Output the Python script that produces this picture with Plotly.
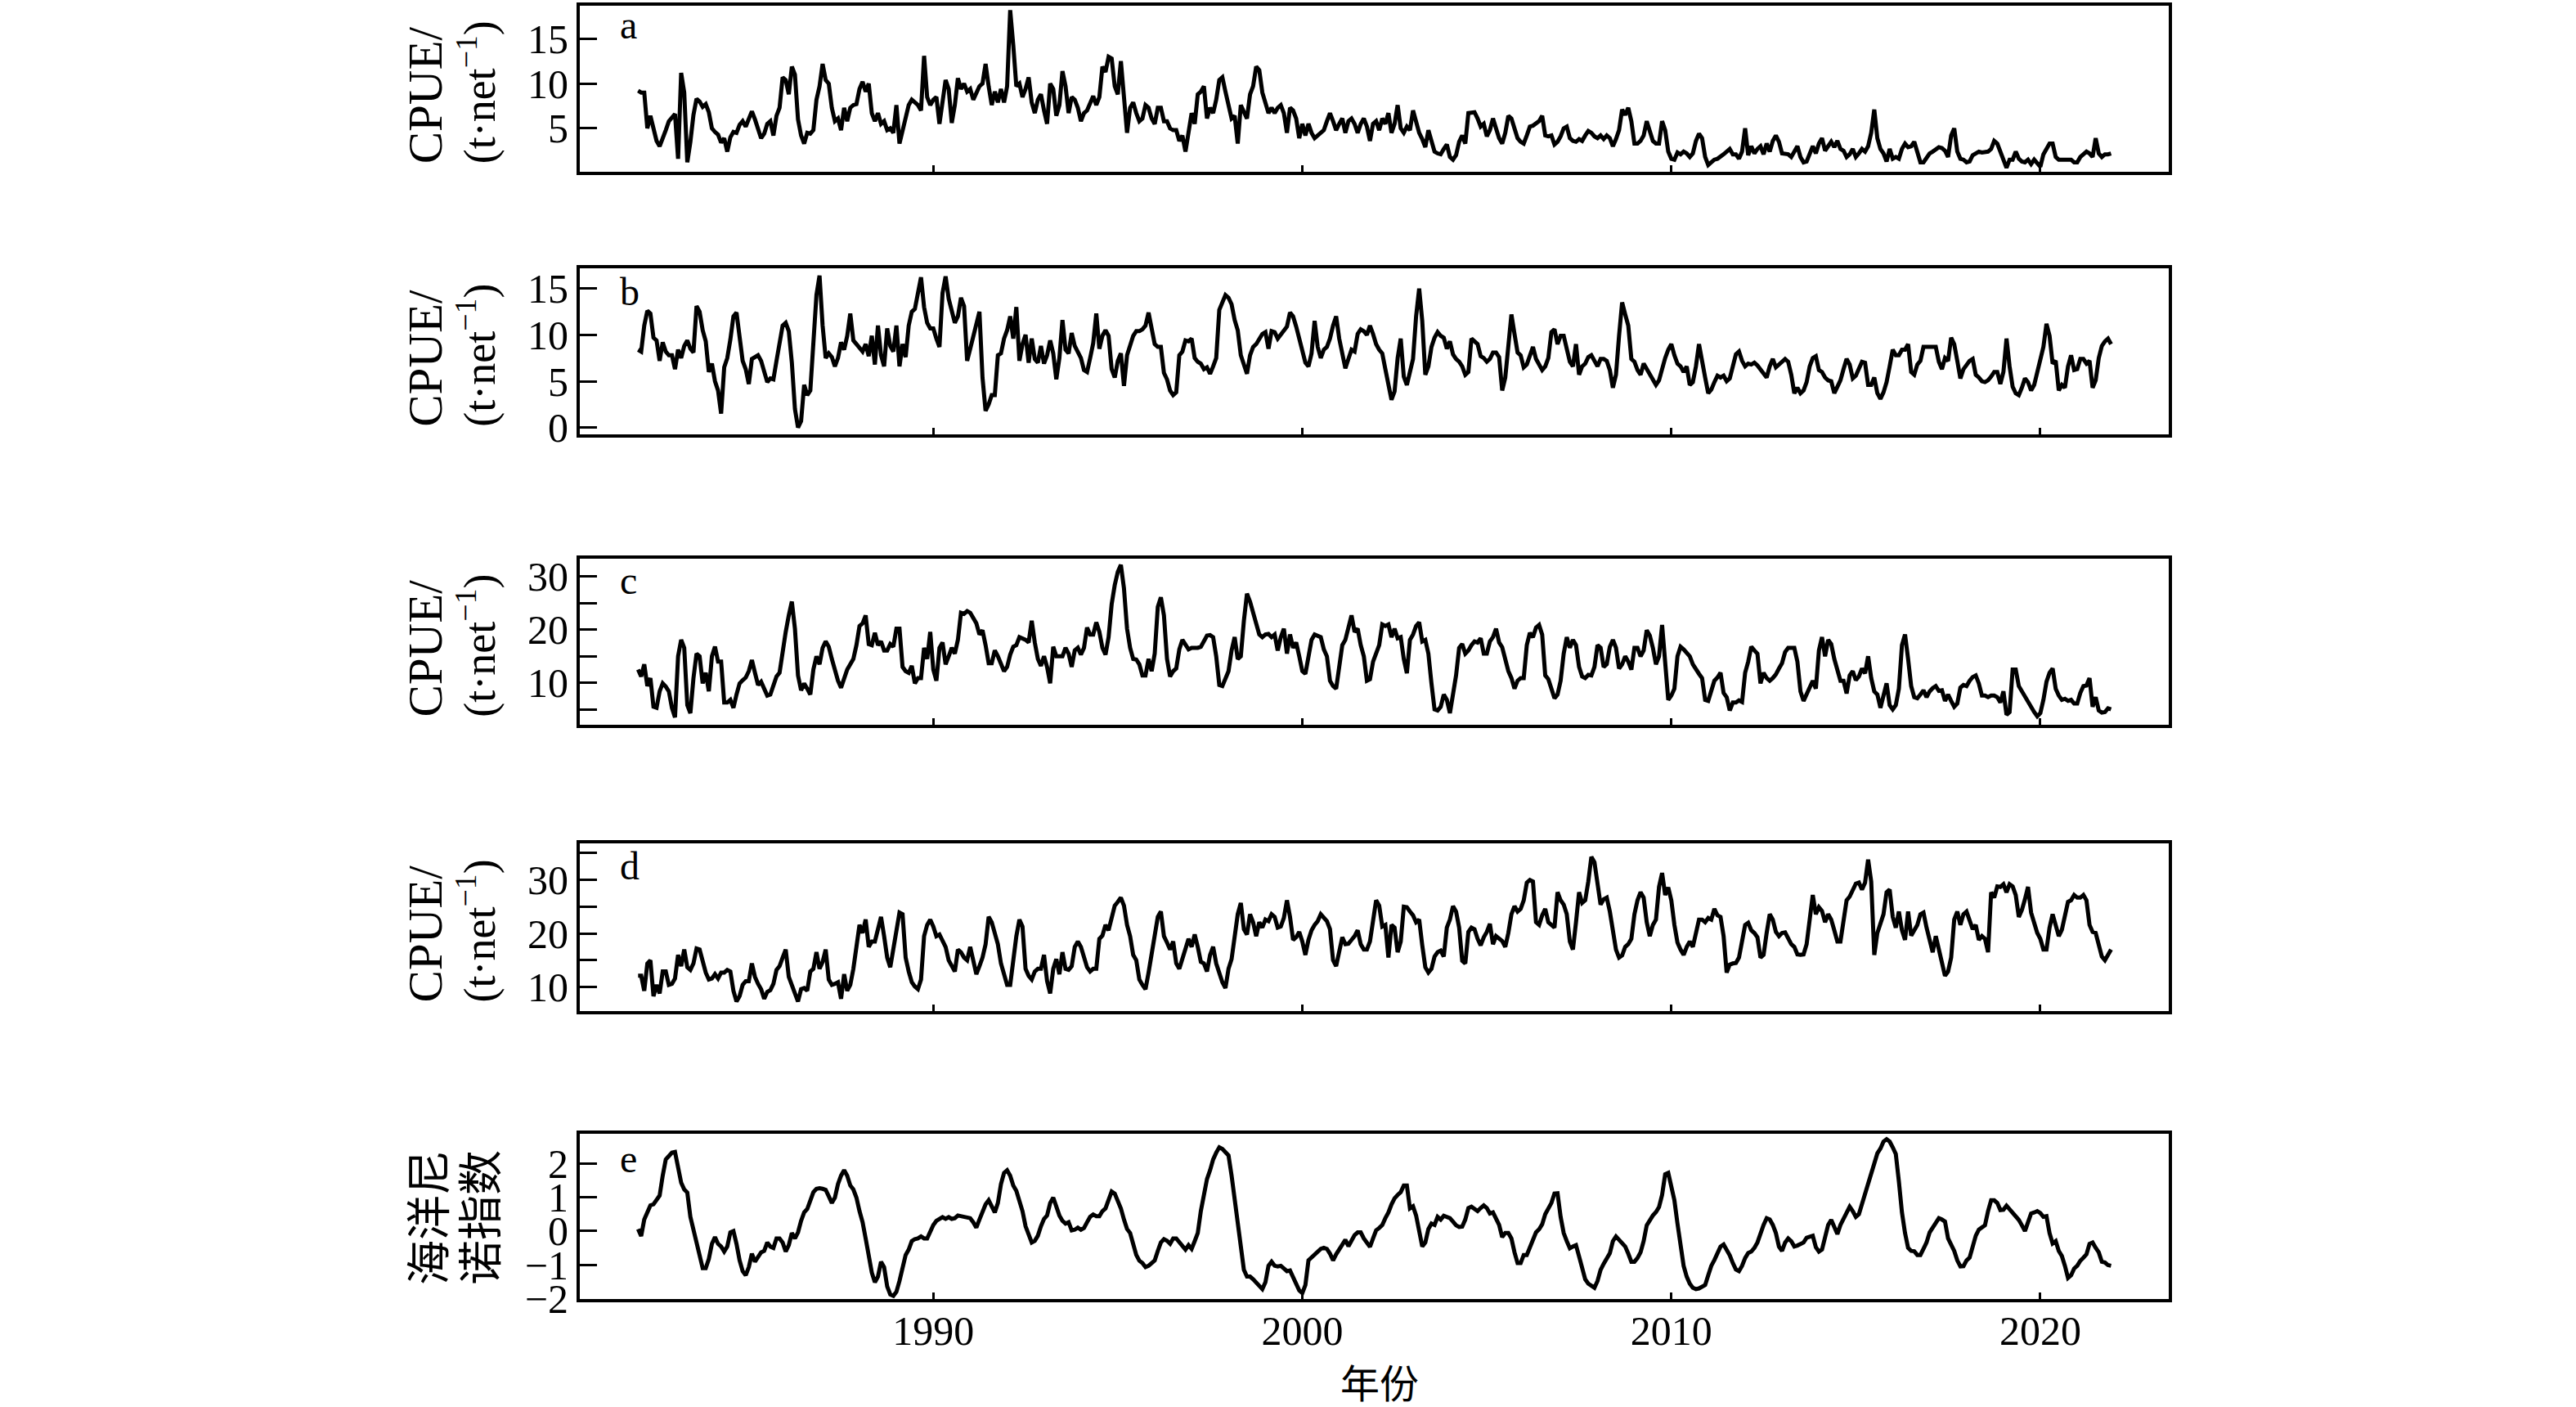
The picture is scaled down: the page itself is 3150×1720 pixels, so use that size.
import numpy as np
import plotly.graph_objects as go

start_year = 1982  # monthly series, January 1982 - December 2021

cpue_a = [
9.2, 9.0, 9.0, 5.0, 6.4, 4.8, 3.6, 3.0, 3.8, 4.8,
5.8, 6.3, 6.6, 1.6, 11.2, 9.0, 1.2, 3.5, 6.5, 8.3,
8.0, 7.4, 7.7, 6.8, 5.0, 4.6, 4.3, 3.4, 3.9, 2.4,
4.0, 4.6, 4.5, 5.4, 5.8, 5.2, 6.2, 6.9, 6.0, 4.8,
3.9, 4.4, 5.5, 5.8, 4.2, 6.4, 7.3, 10.7, 10.4, 8.8,
11.9, 11.0, 6.0, 4.2, 3.3, 4.5, 4.4, 4.8, 8.2, 9.7,
12.2, 10.4, 10.0, 7.3, 5.8, 6.1, 4.8, 7.3, 5.8, 7.3,
7.6, 7.7, 9.4, 10.2, 9.1, 10.0, 6.7, 5.8, 6.7, 5.5,
5.8, 4.8, 5.0, 4.5, 7.6, 3.3, 4.8, 6.1, 7.6, 8.2,
7.9, 7.6, 7.0, 13.1, 8.5, 7.6, 8.2, 8.5, 5.5, 8.0,
10.4, 9.4, 5.6, 7.6, 10.6, 9.4, 10.0, 9.1, 9.4, 8.2,
9.0, 9.7, 10.0, 12.2, 9.7, 7.6, 9.1, 7.9, 9.4, 7.9,
9.7, 18.2, 14.3, 9.7, 10.0, 8.5, 9.4, 10.7, 7.9, 6.7,
8.2, 8.8, 7.0, 5.5, 10.0, 9.4, 6.4, 7.6, 11.4, 9.7,
6.7, 8.5, 8.2, 7.3, 5.8, 6.7, 7.0, 7.9, 8.6, 7.6,
8.5, 11.9, 11.3, 13.0, 12.8, 9.7, 8.8, 12.5, 8.8, 4.5,
7.3, 7.9, 6.7, 5.8, 6.1, 7.6, 7.3, 6.1, 5.5, 7.3,
7.3, 5.8, 5.8, 5.0, 4.8, 4.8, 3.6, 4.2, 2.4, 4.8,
6.7, 5.5, 8.8, 9.1, 9.7, 6.1, 7.3, 6.7, 8.2, 10.4,
10.7, 9.1, 7.6, 6.1, 6.4, 3.3, 7.6, 6.7, 6.1, 8.8,
9.7, 11.9, 11.5, 9.0, 7.9, 6.7, 7.3, 6.7, 7.3, 7.6,
6.7, 4.5, 7.3, 7.0, 6.1, 3.9, 5.5, 4.2, 5.5, 4.5,
3.9, 4.2, 4.5, 4.8, 5.8, 6.7, 5.8, 4.8, 5.5, 6.1,
4.5, 5.8, 6.1, 5.5, 4.5, 5.5, 6.1, 5.2, 3.6, 5.5,
5.8, 4.8, 6.1, 5.5, 6.7, 4.5, 5.5, 7.6, 5.0, 4.5,
5.2, 4.8, 7.0, 5.6, 4.5, 3.8, 2.9, 4.8, 3.6, 2.4,
2.2, 2.1, 2.7, 3.2, 1.8, 1.5, 2.0, 3.5, 4.2, 3.3,
6.7, 6.8, 6.8, 6.1, 5.2, 5.5, 4.1, 4.8, 6.1, 5.0,
3.9, 3.3, 4.5, 6.4, 6.1, 5.0, 3.9, 3.5, 3.3, 4.2,
5.2, 5.3, 5.5, 5.8, 6.4, 4.2, 4.1, 4.2, 3.2, 3.5,
4.1, 5.0, 5.2, 3.9, 3.6, 3.5, 3.8, 3.6, 4.2, 4.7,
4.5, 4.1, 3.9, 4.2, 3.8, 4.2, 3.9, 3.0, 3.8, 4.8,
7.1, 6.5, 7.3, 5.8, 3.3, 3.3, 3.6, 4.2, 5.8, 4.8,
3.6, 3.3, 3.3, 5.8, 4.8, 2.4, 1.6, 1.5, 2.3, 2.1,
2.4, 2.2, 1.8, 2.2, 3.6, 4.4, 3.9, 1.8, 0.9, 1.2,
1.5, 1.6, 1.8, 2.1, 2.4, 2.7, 2.1, 2.1, 1.6, 2.4,
5.0, 2.0, 3.0, 2.2, 2.7, 3.0, 2.1, 3.3, 2.4, 3.6,
4.2, 3.5, 2.2, 2.2, 2.1, 1.8, 2.4, 3.0, 1.8, 1.2,
1.3, 2.2, 3.0, 2.2, 3.3, 3.9, 2.5, 3.0, 3.5, 2.9,
3.6, 2.7, 2.5, 1.8, 2.1, 2.7, 1.8, 2.2, 2.7, 2.4,
3.0, 4.5, 7.1, 3.9, 2.7, 2.2, 1.3, 2.7, 1.6, 1.8,
1.6, 2.7, 3.3, 2.9, 3.0, 3.5, 2.2, 1.2, 1.2, 1.8,
2.2, 2.4, 2.7, 2.9, 2.8, 2.5, 1.8, 4.2, 5.0, 2.4,
1.6, 1.5, 1.2, 1.3, 2.0, 2.2, 2.4, 2.3, 2.4, 2.4,
2.7, 3.6, 3.3, 2.4, 1.8, 0.6, 1.5, 1.5, 2.4, 1.6,
1.3, 1.2, 1.5, 1.0, 1.5, 1.0, 0.7, 2.1, 2.7, 3.3,
3.3, 1.8, 1.5, 1.5, 1.6, 1.6, 1.5, 1.2, 1.2, 1.8,
2.1, 2.4, 2.2, 1.8, 3.9, 2.2, 1.8, 2.1, 2.1, 2.2,
]

cpue_b = [
8.4, 8.2, 11.0, 12.6, 12.3, 9.7, 9.4, 7.2, 9.2, 8.2,
7.8, 7.8, 6.3, 8.4, 7.5, 8.8, 9.4, 8.5, 8.1, 13.1,
12.5, 10.5, 9.3, 6.0, 6.9, 5.0, 4.0, 1.5, 6.5, 7.5,
9.5, 12.0, 12.4, 9.5, 7.2, 6.3, 4.7, 7.4, 7.6, 7.8,
7.2, 6.0, 4.9, 5.3, 5.2, 7.2, 9.3, 11.0, 11.3, 10.4,
7.0, 2.0, 0.0, 0.7, 4.6, 3.5, 4.0, 9.5, 14.3, 16.4,
11.0, 7.5, 8.0, 7.6, 6.6, 7.5, 9.2, 8.4, 9.9, 12.3,
9.4, 9.0, 8.6, 8.2, 9.0, 7.7, 9.9, 6.8, 11.0, 7.8,
6.6, 10.7, 8.8, 8.2, 11.0, 6.6, 9.0, 7.6, 11.0, 12.5,
12.8, 14.3, 16.2, 13.0, 11.3, 10.7, 10.7, 9.6, 8.7, 14.5,
16.3, 13.9, 12.5, 11.3, 12.0, 14.0, 13.1, 7.2, 8.5, 10.0,
11.0, 12.5, 5.4, 1.8, 2.5, 3.5, 3.5, 7.8, 8.0, 9.6,
10.5, 12.0, 9.6, 13.0, 7.2, 9.0, 10.0, 7.0, 9.6, 7.4,
7.0, 8.8, 6.9, 7.8, 9.4, 8.0, 5.2, 7.5, 11.6, 8.4,
8.0, 10.2, 8.8, 8.1, 7.5, 6.2, 6.0, 7.5, 9.1, 12.3,
8.5, 9.9, 10.5, 9.9, 6.3, 5.4, 7.2, 8.0, 4.5, 7.8,
9.0, 9.9, 10.4, 10.4, 10.6, 11.0, 12.4, 10.5, 9.0, 8.7,
8.7, 5.9, 5.2, 4.0, 3.5, 3.8, 7.8, 8.2, 9.4, 9.3,
9.6, 7.5, 7.1, 6.9, 6.3, 6.5, 5.8, 6.6, 7.5, 12.7,
13.6, 14.3, 14.0, 13.3, 11.6, 10.5, 7.8, 6.6, 5.8, 7.8,
8.7, 9.0, 9.6, 10.1, 10.3, 8.5, 10.4, 10.3, 9.6, 10.0,
10.4, 10.9, 12.4, 12.0, 10.9, 9.6, 8.1, 7.0, 6.6, 8.0,
11.5, 8.7, 7.5, 8.4, 8.7, 9.6, 11.0, 12.0, 9.6, 7.8,
6.4, 7.4, 8.4, 8.2, 10.1, 10.6, 10.4, 10.0, 11.0, 10.1,
9.0, 8.4, 8.0, 6.3, 4.6, 3.0, 3.9, 7.5, 9.6, 5.5,
4.6, 6.0, 7.4, 12.0, 15.0, 11.5, 5.7, 6.6, 8.7, 9.7,
10.3, 9.9, 9.7, 8.5, 9.3, 7.9, 7.4, 7.1, 6.6, 5.7,
6.0, 9.6, 9.3, 9.0, 7.7, 7.5, 7.1, 7.4, 8.1, 8.1,
7.6, 4.0, 5.4, 8.7, 12.2, 10.1, 8.1, 7.8, 6.5, 6.8,
7.9, 8.7, 7.4, 6.8, 6.2, 6.6, 7.5, 10.3, 10.6, 9.0,
9.9, 9.9, 8.7, 7.1, 6.6, 9.0, 5.7, 6.6, 6.9, 7.6,
7.8, 7.1, 6.6, 7.4, 7.4, 7.2, 6.2, 4.3, 5.7, 9.9,
13.5, 12.2, 11.0, 7.4, 7.1, 6.2, 5.7, 6.9, 6.3, 5.6,
5.0, 4.6, 5.1, 6.5, 7.5, 8.4, 9.0, 7.8, 6.9, 6.6,
6.0, 6.6, 4.6, 4.9, 6.6, 9.0, 6.9, 5.4, 3.7, 4.1,
4.9, 5.6, 5.4, 5.6, 5.0, 5.3, 6.6, 7.9, 8.2, 7.2,
6.6, 6.9, 6.8, 7.0, 6.7, 6.3, 5.8, 5.4, 6.6, 7.4,
6.5, 6.8, 7.1, 7.4, 7.1, 5.7, 3.7, 4.3, 3.7, 4.0,
4.9, 6.6, 7.5, 7.7, 6.2, 6.0, 5.4, 5.1, 5.0, 3.7,
4.4, 5.1, 6.3, 7.4, 6.8, 5.3, 5.6, 6.3, 7.1, 7.0,
4.6, 4.6, 5.4, 3.7, 3.1, 3.8, 4.9, 6.6, 8.4, 7.8,
7.8, 8.4, 8.4, 9.0, 6.0, 5.7, 6.8, 7.2, 8.7, 8.7,
8.7, 8.7, 8.7, 7.1, 6.3, 7.5, 7.2, 9.7, 9.0, 7.2,
5.3, 6.3, 6.8, 7.2, 7.4, 5.7, 5.4, 5.0, 4.9, 5.1,
5.5, 6.0, 6.0, 4.7, 6.0, 9.6, 6.6, 4.4, 3.7, 3.5,
4.3, 5.3, 4.9, 4.0, 4.6, 6.0, 7.4, 8.7, 11.2, 9.9,
6.9, 7.2, 4.0, 4.6, 4.3, 6.6, 7.8, 6.2, 6.3, 7.4,
7.4, 6.9, 7.2, 4.3, 5.1, 7.5, 8.8, 9.3, 9.6, 9.0,
]

cpue_c = [
12.5, 11.2, 13.5, 9.4, 10.9, 5.5, 5.3, 8.4, 9.9, 9.3,
8.4, 5.3, 3.5, 15.0, 18.1, 16.6, 5.8, 4.3, 10.9, 15.5,
15.0, 9.9, 11.9, 8.4, 15.0, 16.8, 14.0, 14.0, 6.3, 6.3,
6.8, 5.3, 7.8, 9.9, 10.5, 11.0, 12.2, 14.3, 11.9, 9.6,
10.2, 8.9, 7.6, 7.8, 9.4, 11.2, 11.9, 16.1, 19.6, 22.7,
25.3, 20.2, 11.4, 8.6, 9.9, 8.9, 7.8, 12.5, 15.0, 13.5,
16.6, 17.8, 16.8, 14.5, 12.5, 10.4, 9.1, 10.9, 12.5, 13.5,
14.5, 17.1, 20.7, 21.2, 22.7, 17.3, 17.1, 19.4, 17.1, 17.8,
16.1, 16.1, 17.3, 16.8, 20.2, 20.2, 13.0, 12.2, 11.9, 13.2,
9.9, 10.9, 10.9, 16.6, 14.5, 19.6, 12.5, 10.4, 16.6, 17.6,
13.5, 15.0, 16.6, 15.5, 18.1, 23.2, 23.0, 23.5, 23.2, 22.2,
21.2, 19.1, 19.9, 17.1, 13.7, 13.7, 16.1, 15.0, 13.5, 12.2,
13.0, 15.3, 16.8, 17.1, 18.6, 18.4, 18.1, 17.6, 21.7, 17.6,
14.5, 13.2, 15.0, 13.0, 9.9, 16.8, 15.0, 15.0, 15.0, 16.6,
15.5, 13.0, 16.1, 16.6, 15.3, 16.6, 20.4, 19.1, 19.1, 21.4,
19.6, 16.6, 15.3, 18.6, 24.8, 28.4, 30.9, 32.2, 27.8, 20.2,
16.6, 14.5, 14.4, 13.5, 11.4, 11.4, 14.5, 12.2, 15.5, 24.3,
26.1, 22.7, 14.5, 11.2, 12.2, 12.7, 16.3, 18.1, 17.3, 16.3,
16.6, 16.6, 16.6, 16.8, 17.8, 18.9, 19.0, 18.6, 15.0, 9.6,
9.4, 10.7, 12.2, 16.1, 18.6, 14.5, 15.0, 21.7, 26.8, 25.3,
23.0, 21.4, 19.1, 18.6, 19.1, 19.2, 18.6, 19.1, 16.1, 18.6,
20.2, 15.5, 19.1, 16.6, 17.6, 15.0, 12.2, 11.7, 15.0, 18.1,
19.1, 18.9, 18.6, 16.3, 15.0, 10.4, 9.4, 8.9, 13.0, 17.1,
18.1, 20.2, 22.7, 19.6, 20.2, 17.1, 15.0, 10.4, 10.7, 14.0,
15.5, 17.1, 21.0, 20.7, 21.0, 18.6, 20.2, 18.4, 18.6, 14.5,
11.8, 18.1, 19.1, 20.7, 21.4, 17.8, 18.1, 15.5, 9.9, 5.0,
4.8, 5.5, 7.8, 6.8, 4.3, 7.4, 11.4, 16.6, 17.3, 15.5,
16.1, 17.1, 17.8, 17.6, 18.4, 15.5, 15.5, 17.8, 18.6, 20.2,
17.6, 16.7, 14.0, 12.2, 10.9, 8.9, 10.4, 10.9, 10.9, 17.1,
19.4, 18.6, 20.4, 20.9, 19.1, 11.4, 10.7, 8.9, 7.1, 7.8,
10.4, 15.5, 18.6, 16.6, 18.1, 17.1, 13.0, 11.2, 10.9, 11.5,
11.4, 13.0, 17.1, 16.6, 13.0, 13.5, 16.8, 18.1, 16.6, 12.7,
13.5, 15.0, 14.0, 12.5, 16.6, 16.6, 15.0, 16.1, 19.9, 18.9,
16.6, 13.5, 15.0, 20.9, 13.0, 6.8, 7.6, 8.9, 15.0, 16.8,
16.3, 15.5, 15.0, 13.5, 12.4, 11.7, 10.9, 6.8, 6.6, 8.4,
10.4, 11.0, 11.9, 8.1, 7.3, 4.8, 6.3, 6.3, 6.7, 6.4,
11.9, 14.0, 16.8, 16.1, 15.5, 9.9, 11.9, 10.9, 10.4, 10.9,
11.6, 12.7, 13.7, 15.8, 16.6, 16.6, 16.6, 14.0, 8.4, 6.6,
7.8, 9.4, 10.4, 8.9, 16.1, 18.6, 15.0, 18.1, 17.3, 14.5,
12.7, 10.4, 10.4, 8.0, 11.4, 12.2, 10.5, 11.2, 12.7, 11.8,
15.0, 10.9, 8.4, 7.8, 5.3, 7.3, 9.9, 5.8, 5.0, 5.8,
8.9, 17.1, 19.1, 14.5, 9.4, 7.3, 7.1, 7.8, 8.6, 7.3,
8.4, 9.0, 9.4, 8.5, 8.6, 6.6, 7.8, 6.6, 5.5, 6.1,
9.1, 9.6, 9.4, 10.4, 11.1, 11.4, 9.9, 7.6, 7.6, 7.3,
7.6, 7.6, 7.3, 6.3, 8.4, 4.0, 4.5, 12.5, 12.5, 9.4,
8.4, 7.6, 6.3, 5.5, 4.5, 3.7, 4.3, 6.8, 10.2, 11.9,
12.7, 8.9, 7.6, 6.8, 7.0, 6.6, 6.8, 6.1, 6.1, 8.1,
9.4, 9.5, 10.9, 5.5, 7.3, 4.8, 4.4, 4.5, 5.2, 5.0,
]

cpue_d = [
12.1, 12.1, 9.3, 14.4, 15.0, 8.3, 10.4, 8.8, 12.9, 12.9,
10.4, 10.6, 11.6, 16.0, 13.9, 17.0, 13.7, 13.2, 14.4, 17.2,
17.0, 15.0, 12.7, 11.4, 11.6, 12.4, 11.6, 12.7, 12.7, 13.2,
12.9, 9.3, 7.3, 8.3, 10.4, 11.1, 11.1, 14.4, 11.9, 10.6,
9.6, 7.8, 9.1, 9.4, 10.6, 13.2, 13.9, 15.5, 17.0, 11.9,
10.1, 8.8, 7.3, 9.6, 9.8, 9.3, 12.9, 13.4, 16.5, 13.4,
14.7, 17.0, 11.4, 10.4, 10.6, 10.9, 7.8, 12.4, 9.3, 10.4,
13.4, 17.0, 21.6, 20.1, 22.6, 17.5, 18.5, 18.5, 21.1, 23.1,
19.5, 15.5, 13.7, 17.5, 21.1, 23.9, 23.6, 15.5, 12.9, 10.9,
10.1, 9.6, 11.4, 19.5, 21.6, 22.6, 21.3, 19.5, 19.8, 18.5,
17.5, 15.0, 13.9, 12.9, 17.0, 16.5, 15.5, 15.0, 17.5, 15.0,
12.4, 13.9, 15.5, 18.0, 23.1, 22.1, 20.1, 18.0, 14.4, 12.4,
10.4, 10.4, 15.2, 19.5, 22.6, 21.3, 13.4, 12.1, 11.4, 12.9,
13.4, 13.4, 16.0, 11.1, 8.8, 13.4, 15.2, 12.4, 16.5, 13.4,
13.2, 13.9, 17.5, 18.5, 17.5, 15.5, 13.7, 12.9, 13.4, 13.4,
19.0, 19.6, 21.6, 20.6, 22.9, 25.2, 25.9, 26.7, 25.2, 21.6,
19.5, 16.0, 15.0, 11.4, 10.4, 9.6, 12.7, 16.0, 19.5, 23.1,
24.1, 19.5, 18.3, 17.0, 18.5, 14.4, 13.4, 15.2, 17.0, 19.0,
17.5, 19.8, 17.5, 14.7, 14.4, 12.9, 16.0, 17.5, 14.4, 12.7,
10.9, 9.8, 13.4, 15.2, 19.5, 23.6, 25.7, 20.8, 19.8, 23.6,
22.1, 19.5, 22.1, 21.1, 22.6, 22.3, 23.6, 23.1, 21.1, 21.3,
22.9, 26.2, 23.1, 18.8, 19.3, 20.3, 18.5, 16.0, 18.8, 20.6,
21.6, 22.3, 23.6, 23.0, 22.3, 20.8, 15.0, 13.9, 17.0, 19.3,
18.0, 18.1, 18.8, 19.5, 20.6, 18.0, 17.0, 17.0, 18.5, 22.1,
26.2, 25.2, 21.3, 21.6, 15.5, 21.6, 21.1, 16.5, 18.5, 25.0,
24.9, 24.1, 23.4, 22.1, 22.6, 17.8, 13.7, 12.7, 13.4, 15.7,
16.5, 16.8, 15.7, 21.1, 22.6, 25.1, 24.1, 21.1, 14.9, 14.4,
20.3, 21.1, 20.8, 19.0, 17.8, 19.3, 20.3, 21.8, 18.0, 19.5,
19.0, 18.6, 17.5, 20.1, 23.6, 25.1, 24.1, 24.6, 26.2, 29.5,
30.0, 29.7, 22.1, 21.6, 23.4, 24.6, 22.1, 21.6, 21.1, 27.7,
26.2, 25.4, 23.6, 18.5, 17.0, 22.1, 27.7, 25.7, 26.2, 29.7,
34.3, 33.3, 29.2, 25.4, 26.4, 26.7, 24.1, 20.6, 17.0, 15.5,
15.9, 17.5, 18.0, 19.0, 23.6, 26.2, 27.7, 26.7, 22.1, 19.5,
21.6, 22.6, 28.7, 31.3, 27.2, 28.6, 26.2, 21.6, 18.3, 17.0,
16.0, 17.5, 18.5, 17.5, 19.8, 22.6, 22.6, 22.1, 22.9, 22.6,
24.6, 23.4, 23.1, 19.5, 12.7, 14.2, 14.4, 14.5, 15.5, 18.8,
21.6, 22.0, 20.6, 20.1, 19.3, 15.5, 16.0, 20.1, 23.6, 22.6,
20.3, 19.5, 20.1, 20.2, 19.0, 18.0, 17.5, 16.1, 16.0, 16.1,
18.0, 22.6, 27.2, 23.6, 24.9, 24.2, 22.1, 23.6, 22.6, 20.6,
18.5, 18.5, 23.1, 26.2, 26.9, 28.1, 29.3, 29.5, 28.2, 29.5,
33.8, 29.7, 16.0, 20.1, 21.6, 23.6, 27.7, 28.2, 23.1, 21.1,
24.1, 20.6, 18.8, 24.1, 19.6, 20.5, 21.6, 23.6, 23.9, 21.1,
18.8, 16.5, 19.5, 17.0, 14.7, 12.1, 12.9, 15.5, 22.6, 24.1,
21.6, 23.6, 24.1, 22.3, 20.8, 21.6, 18.8, 19.5, 19.0, 16.5,
27.7, 26.7, 28.8, 28.7, 29.2, 27.7, 29.2, 28.8, 27.2, 23.1,
24.4, 26.4, 28.7, 23.9, 21.8, 20.1, 19.0, 17.0, 17.0, 21.1,
23.6, 21.6, 19.5, 20.7, 23.1, 25.9, 26.2, 27.2, 26.7, 26.7,
27.2, 26.2, 21.6, 20.3, 20.1, 18.0, 15.7, 15.0, 16.2, 17.0,
]

oni = [
0.06, -0.15, 0.34, 0.59, 0.76, 0.79, 0.91, 1.05, 1.64, 2.12,
2.22, 2.32, 2.34, 1.88, 1.43, 1.23, 1.14, 0.42, 0.02, -0.30,
-0.79, -1.10, -1.10, -0.83, -0.38, -0.18, -0.38, -0.46, -0.61, -0.46,
-0.04, 0.0, -0.38, -0.87, -1.19, -1.31, -1.07, -0.67, -0.91, -0.79,
-0.63, -0.59, -0.34, -0.46, -0.50, -0.22, -0.22, -0.34, -0.61, -0.42,
-0.06, -0.22, -0.04, 0.30, 0.55, 0.65, 0.91, 1.15, 1.25, 1.27,
1.25, 1.22, 1.03, 0.83, 0.99, 1.39, 1.64, 1.80, 1.64, 1.35,
1.23, 0.99, 0.59, 0.26, -0.22, -0.79, -1.23, -1.52, -1.35, -0.91,
-1.07, -1.64, -1.88, -1.92, -1.80, -1.48, -1.03, -0.71, -0.55, -0.30,
-0.24, -0.22, -0.16, -0.22, -0.22, 0.02, 0.18, 0.30, 0.34, 0.41,
0.36, 0.41, 0.36, 0.38, 0.46, 0.44, 0.42, 0.42, 0.38, 0.26,
0.10, 0.34, 0.55, 0.79, 0.91, 0.71, 0.55, 0.83, 1.39, 1.72,
1.80, 1.64, 1.35, 1.19, 0.87, 0.59, 0.14, -0.14, -0.34, -0.29,
-0.14, 0.14, 0.36, 0.46, 0.83, 0.99, 0.67, 0.46, 0.30, 0.22,
0.26, 0.02, 0.04, 0.10, 0.04, 0.09, 0.26, 0.42, 0.49, 0.44,
0.44, 0.59, 0.67, 0.95, 1.17, 1.11, 0.87, 0.67, 0.34, 0.06,
-0.06, -0.38, -0.71, -0.88, -0.95, -1.07, -1.03, -0.95, -0.87, -0.59,
-0.34, -0.24, -0.29, -0.38, -0.22, -0.22, -0.34, -0.45, -0.55, -0.42,
-0.53, -0.30, -0.06, 0.59, 1.07, 1.54, 1.80, 2.12, 2.32, 2.48,
2.43, 2.35, 2.24, 1.64, 0.91, 0.10, -0.55, -1.15, -1.35, -1.35,
-1.43, -1.53, -1.64, -1.72, -1.52, -1.03, -0.91, -1.03, -1.05, -1.03,
-1.11, -1.19, -1.17, -1.39, -1.58, -1.76, -1.84, -1.60, -0.87, -0.79,
-0.72, -0.63, -0.53, -0.50, -0.53, -0.67, -0.87, -0.69, -0.55, -0.42,
-0.26, -0.45, -0.29, -0.12, -0.04, -0.04, -0.22, -0.34, -0.47, -0.22,
0.02, 0.09, 0.18, 0.38, 0.55, 0.79, 0.97, 1.07, 1.15, 1.35,
1.35, 0.67, 0.73, 0.46, 0.02, -0.46, -0.34, 0.06, 0.22, 0.18,
0.42, 0.34, 0.45, 0.41, 0.38, 0.28, 0.17, 0.12, 0.13, 0.34,
0.68, 0.72, 0.67, 0.59, 0.68, 0.76, 0.68, 0.52, 0.55, 0.39,
0.18, -0.18, -0.06, -0.06, -0.22, -0.63, -0.95, -0.95, -0.71, -0.71,
-0.50, -0.22, -0.04, 0.05, 0.20, 0.50, 0.68, 0.83, 1.11, 1.12,
0.42, -0.06, -0.30, -0.51, -0.46, -0.42, -0.75, -1.13, -1.43, -1.56,
-1.63, -1.68, -1.48, -1.15, -0.97, -0.84, -0.66, -0.30, -0.16, -0.26,
-0.37, -0.46, -0.67, -0.91, -0.91, -0.80, -0.63, -0.30, 0.17, 0.33,
0.46, 0.56, 0.71, 1.07, 1.68, 1.72, 1.35, 0.91, 0.22, -0.38,
-1.03, -1.35, -1.56, -1.68, -1.72, -1.70, -1.64, -1.60, -1.31, -1.03,
-0.86, -0.66, -0.46, -0.40, -0.55, -0.72, -0.95, -1.14, -1.19, -1.03,
-0.80, -0.65, -0.61, -0.50, -0.34, -0.06, 0.18, 0.38, 0.34, 0.18,
-0.06, -0.46, -0.59, -0.34, -0.22, -0.30, -0.46, -0.43, -0.38, -0.34,
-0.20, -0.18, -0.14, -0.48, -0.61, -0.55, -0.21, 0.18, 0.33, 0.10,
-0.09, 0.18, 0.36, 0.55, 0.72, 0.59, 0.42, 0.50, 0.81, 1.11,
1.39, 1.68, 2.04, 2.30, 2.44, 2.65, 2.72, 2.65, 2.48, 2.28,
1.47, 0.55, -0.06, -0.50, -0.59, -0.60, -0.71, -0.71, -0.53, -0.34,
-0.04, 0.09, 0.26, 0.38, 0.34, 0.28, -0.22, -0.41, -0.59, -0.87,
-1.05, -1.04, -0.87, -0.79, -0.46, -0.14, 0.04, 0.10, 0.17, 0.59,
0.91, 0.91, 0.83, 0.62, 0.63, 0.75, 0.65, 0.55, 0.46, 0.33,
0.17, 0.0, 0.26, 0.52, 0.55, 0.59, 0.53, 0.42, 0.44, -0.06,
-0.37, -0.30, -0.59, -0.74, -1.03, -1.39, -1.31, -1.11, -1.03, -0.88,
-0.79, -0.69, -0.38, -0.34, -0.50, -0.63, -0.91, -0.93, -1.01, -1.03,
]

panel_letters = ["a", "b", "c", "d", "e"]
year_ticks = [1990, 2000, 2010, 2020]
year_labels = ["1990", "2000", "2010", "2020"]
ytick_vals = [
    [5, 10, 15],
    [0, 5, 10, 15],
    [10, 20, 30],
    [10, 20, 30],
    [-2, -1, 0, 1, 2],
]
ytick_text = [
    ["5", "10", "15"],
    ["0", "5", "10", "15"],
    ["10", "20", "30"],
    ["10", "20", "30"],
    ["\u22122", "\u22121", "0", "1", "2"],
]
yminor_vals = [[], [], [5, 15, 25], [15, 25, 35], []]
y_title_cpue = ["CPUE/", "(t\u00b7net<sup>\u22121</sup>)"]
y_title_oni = ["\u6d77\u6d0b\u5c3c", "\u8bfa\u6307\u6570"]
x_title = "\u5e74\u4efd"

series = [cpue_a, cpue_b, cpue_c, cpue_d, oni]

# ---- layout geometry (pixels of the 3150x1720 target) ----
W, H_REF = 3150, 1720
H = 1750                       # page height; rendered picture is fitted to 1720 rows
SY = H / H_REF
L, R = 709, 2652
panels_px = [(2, 205), (324, 527), (679, 883), (1028, 1233), (1383, 1586)]
letter_dy = [24, 28, 27, 27, 31]
y_ranges = [[0.18, 18.7], [-0.74, 17.14], [2.04, 33.4], [5.53, 36.8], [-2.02, 2.89]]
x_range = [1980.42, 2023.48]

SERIF = "Liberation Serif, Times New Roman, serif"
CJK = "Noto Sans CJK SC"

def px_x(p):
    return (p - L) / (R - L)

def px_y(p):
    return 1 - (p * SY) / H

fig = go.Figure()
layout = dict(
    width=W, height=H,
    margin=dict(l=L, r=W - R, t=0, b=0),
    paper_bgcolor="white", plot_bgcolor="white",
    showlegend=False,
    font=dict(family=SERIF, size=50, color="black"),
)
annotations = []

for i, vals in enumerate(series):
    n = i + 1
    xs = start_year + np.arange(len(vals)) / 12.0
    xa = "x" if n == 1 else f"x{n}"
    ya = "y" if n == 1 else f"y{n}"
    fig.add_trace(go.Scatter(x=xs, y=vals, mode="lines",
                             line=dict(color="black", width=5),
                             xaxis=xa, yaxis=ya, hoverinfo="skip"))
    top, bot = panels_px[i]
    dom = [px_y(bot), px_y(top)]
    layout["xaxis" if n == 1 else f"xaxis{n}"] = dict(
        domain=[0, 1], range=x_range, anchor=ya,
        showline=True, mirror=True, linecolor="black", linewidth=4,
        ticks="inside", ticklen=8, tickwidth=3, tickcolor="black",
        tickvals=year_ticks, ticktext=year_labels,
        showticklabels=(n == 5), showgrid=False, zeroline=False,
        ticklabelstandoff=-8,
        tickfont=dict(family=SERIF, size=50, color="black"),
    )
    yax = dict(
        domain=dom, range=y_ranges[i], anchor=xa,
        showline=True, mirror=True, linecolor="black", linewidth=4,
        ticks="inside", ticklen=21, tickwidth=3, tickcolor="black",
        tickvals=ytick_vals[i], ticktext=ytick_text[i],
        showgrid=False, zeroline=False,
        tickfont=dict(family=SERIF, size=50, color="black"),
    )
    if yminor_vals[i]:
        yax["minor"] = dict(tickvals=yminor_vals[i], ticks="inside", ticklen=21,
                            tickwidth=3, tickcolor="black", showgrid=False)
    layout["yaxis" if n == 1 else f"yaxis{n}"] = yax
    annotations.append(dict(
        xref="paper", yref="paper", x=px_x(756), y=px_y(top + letter_dy[i]),
        xanchor="left", yanchor="middle", showarrow=False,
        text=panel_letters[i], font=dict(family=SERIF, size=48, color="black"),
    ))
    yc = (top + bot) / 2
    if n < 5:
        items = [(y_title_cpue[0], 520, yc + 8, SERIF, 59),
                 (y_title_cpue[1], 583, yc + 5, SERIF, 54)]
    else:
        items = [(y_title_oni[0], 520, yc + 2, CJK, 55),
                 (y_title_oni[1], 583, yc + 2, CJK, 55)]
    for t, xp, yp, fam, fs in items:
        annotations.append(dict(
            xref="paper", yref="paper", x=px_x(xp), y=px_y(yp),
            xanchor="center", yanchor="middle", showarrow=False,
            textangle=-90, text=t, font=dict(family=fam, size=fs, color="black"),
        ))

annotations.append(dict(
    xref="paper", yref="paper", x=px_x(1687), y=px_y(1686),
    xanchor="center", yanchor="middle", showarrow=False,
    text=x_title, font=dict(family=CJK, size=48, color="black"),
))
layout["annotations"] = annotations
fig.update_layout(**layout)
fig.write_html("out.html",
               config={"displayModeBar": False},
               post_script="document.body.style.margin='0';document.body.style.overflow='hidden';")
